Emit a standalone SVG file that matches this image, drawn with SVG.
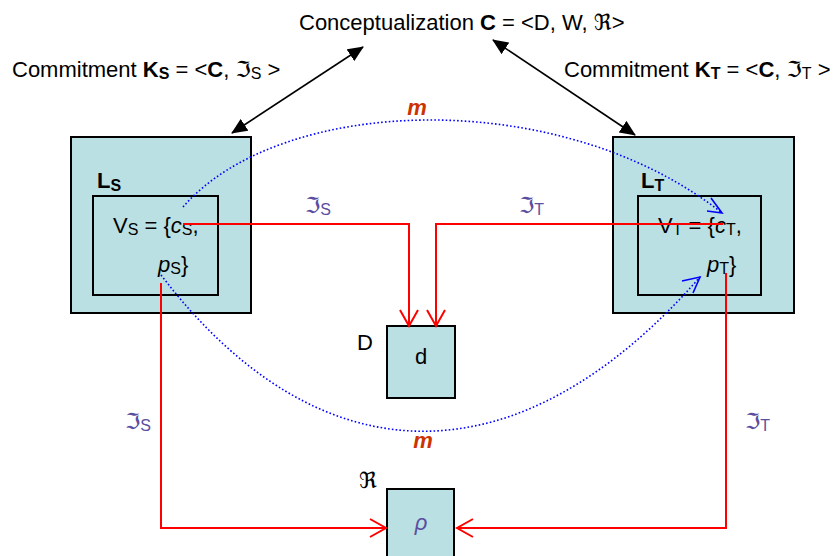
<svg xmlns="http://www.w3.org/2000/svg" width="838" height="556" viewBox="0 0 838 556">
<style>
text{font-family:"Liberation Sans",Arial,sans-serif;font-size:22px;fill:#000}
.frak{font-family:"DejaVu Serif","DejaVu Sans",serif}
.sub{font-size:16px}
.purple{fill:#5a4ea0}
.m{fill:#cc3300;font-weight:bold;font-style:italic}
.box{fill:#bbe0e3;stroke:#000;stroke-width:2}
.inner{fill:none;stroke:#000;stroke-width:2}
.red{fill:none;stroke:#ff0000;stroke-width:2}
.blk{fill:none;stroke:#000;stroke-width:1.6}
.dot{fill:none;stroke:#0000ff;stroke-width:1.6;stroke-dasharray:1.6 2.2}
.bhead{fill:none;stroke:#0000ff;stroke-width:1.6}
</style>
<defs>
<marker id="redopen" viewBox="0 0 20 20" refX="18" refY="10" markerWidth="20" markerHeight="20" markerUnits="userSpaceOnUse" orient="auto">
<polyline points="2,1 18,10 2,19" fill="none" stroke="#ff0000" stroke-width="2"/>
</marker>
<marker id="blkhead" viewBox="0 0 16 14" refX="15" refY="7" markerWidth="16" markerHeight="14" markerUnits="userSpaceOnUse" orient="auto-start-reverse">
<polygon points="0,0 16,7 0,14" fill="#000"/>
</marker>
</defs>

<g id="title">
<text x="299" y="30">Conceptualization <tspan font-weight="bold">C</tspan> = &lt;D, W, <tspan class="frak">ℜ</tspan>&gt;</text>
</g>
<g id="commitS">
<text x="12" y="77">Commitment <tspan font-weight="bold">K</tspan><tspan class="sub" font-weight="bold" dy="2">S</tspan><tspan dy="-2"> = &lt;</tspan><tspan font-weight="bold">C</tspan>, <tspan class="frak">ℑ</tspan><tspan class="sub" dy="2">S</tspan><tspan dy="-2"> &gt;</tspan></text>
</g>
<g id="commitT">
<text x="564" y="77">Commitment <tspan font-weight="bold">K</tspan><tspan class="sub" font-weight="bold" dy="2">T</tspan><tspan dy="-2"> = &lt;</tspan><tspan font-weight="bold">C</tspan>, <tspan class="frak">ℑ</tspan><tspan class="sub" dy="2">T</tspan><tspan dy="-2"> &gt;</tspan></text>
</g>

<g id="LS">
<rect class="box" x="71" y="137" width="180" height="176"/>
<rect class="inner" x="93" y="196" width="125" height="99"/>
<text x="97" y="188" font-weight="bold" font-size="20">L<tspan class="sub" dy="3">S</tspan></text>
<text x="113" y="233">V<tspan class="sub" dy="2">S</tspan><tspan dy="-2"> = {</tspan><tspan font-style="italic">c</tspan><tspan class="sub" dy="2">S</tspan><tspan dy="-2">,</tspan></text>
<text x="158" y="272"><tspan font-style="italic">p</tspan><tspan class="sub" dy="2">S</tspan><tspan dy="-2">}</tspan></text>
</g>

<g id="LT">
<rect class="box" x="613" y="137" width="181" height="176"/>
<rect class="inner" x="638" y="196" width="123" height="99"/>
<text x="641" y="188" font-weight="bold" font-size="20">L<tspan class="sub" dy="3">T</tspan></text>
<text x="658" y="233">V<tspan class="sub" dy="2">T</tspan><tspan dy="-2"> = {</tspan><tspan font-style="italic">c</tspan><tspan class="sub" dy="2">T</tspan><tspan dy="-2">,</tspan></text>
<text x="707" y="272"><tspan font-style="italic">p</tspan><tspan class="sub" dy="2">T</tspan><tspan dy="-2">}</tspan></text>
</g>

<g id="Dbox">
<rect class="box" x="387" y="326" width="68" height="72"/>
<text x="357" y="350">D</text>
<text x="421" y="364" text-anchor="middle">d</text>
</g>

<g id="Rbox">
<rect class="box" x="387" y="489" width="67" height="80"/>
<text x="359" y="488" class="frak">ℜ</text>
<text x="421" y="530" text-anchor="middle" class="purple" font-style="italic" font-family="DejaVu Serif, serif">ρ</text>
</g>

<g id="connectors">
<line class="blk" x1="232" y1="133" x2="363" y2="47" marker-start="url(#blkhead)" marker-end="url(#blkhead)"/>
<line class="blk" x1="635" y1="135" x2="493" y2="40" marker-start="url(#blkhead)" marker-end="url(#blkhead)"/>

<polyline class="red" points="183,224 409,224 409,326" marker-end="url(#redopen)"/>
<polyline class="red" points="723,224 436,224 436,326" marker-end="url(#redopen)"/>
<polyline class="red" points="161,283 161,528 386,528" marker-end="url(#redopen)"/>
<polyline class="red" points="726,273 726,528 457,528" marker-end="url(#redopen)"/>

<path class="dot" d="M183,207 C280,95 560,85 722,213"/>
<polyline class="bhead" points="711,198 722,213 707,211"/>
<path class="dot" d="M161,275 C320,483 520,483 700,277"/>
<polyline class="bhead" points="682,281 700,277 693,293"/>
</g>

<g id="labels">
<text x="305" y="213" class="purple"><tspan class="frak">ℑ</tspan><tspan class="sub" dy="2">S</tspan></text>
<text x="519" y="213" class="purple"><tspan class="frak">ℑ</tspan><tspan class="sub" dy="2">T</tspan></text>
<text x="125" y="429" class="purple"><tspan class="frak">ℑ</tspan><tspan class="sub" dy="2">S</tspan></text>
<text x="745" y="429" class="purple"><tspan class="frak">ℑ</tspan><tspan class="sub" dy="2">T</tspan></text>
<text x="417" y="115" class="m" text-anchor="middle">m</text>
<text x="423" y="448" class="m" text-anchor="middle">m</text>
</g>
</svg>
